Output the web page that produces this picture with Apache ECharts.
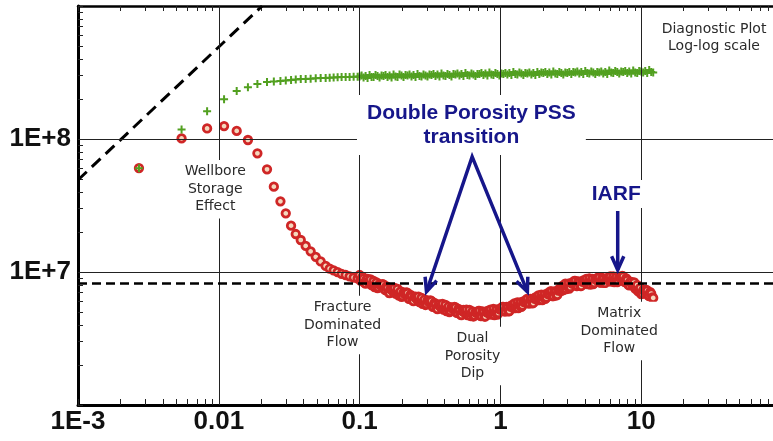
<!DOCTYPE html>
<html><head><meta charset="utf-8">
<script src="https://cdn.jsdelivr.net/npm/echarts@6/dist/echarts.min.js"></script>
<style>html,body{margin:0;padding:0;background:#fff}#c{width:773px;height:441px}</style>
</head><body><div id="c"></div>
<script>
// ---- data ----
const timeSparse = [0.00271,0.00544,0.00826,0.0109,0.0134,0.0161,0.0188,0.0220,0.0246,0.0274,0.0299,0.0326,0.0352,0.0382,0.0414,0.0449,0.0488,0.0529,0.0574,0.0613,0.0654,0.0698,0.0745,0.0796,0.0849,0.0907,0.0968];
const derivSparse = [6.05e7,1.01e8,1.20e8,1.25e8,1.15e8,9.83e7,7.81e7,5.92e7,4.38e7,3.40e7,2.76e7,2.23e7,1.93e7,1.74e7,1.57e7,1.43e7,1.30e7,1.20e7,1.11e7,1.06e7,1.03e7,9.97e6,9.69e6,9.49e6,9.28e6,9.09e6,8.94e6];
const pressSparse = [6.02e7,1.18e8,1.62e8,1.99e8,2.30e8,2.45e8,2.59e8,2.68e8,2.71e8,2.73e8,2.75e8,2.78e8,2.80e8,2.82e8,2.83e8,2.84e8,2.86e8,2.87e8,2.88e8,2.89e8,2.90e8,2.91e8,2.92e8,2.93e8,2.93e8,2.94e8,2.94e8];
const timeDense = [0.1000,0.1033,0.1067,0.1103,0.1139,0.1177,0.1216,0.1257,0.1298,0.1341,
0.1386,0.1432,0.1479,0.1528,0.1579,0.1632,0.1686,0.1742,0.1799,0.1859,
0.1921,0.1985,0.2051,0.2119,0.2189,0.2262,0.2337,0.2415,0.2495,0.2578,
0.2663,0.2752,0.2843,0.2938,0.3035,0.3136,0.3240,0.3348,0.3459,0.3574,
0.3692,0.3815,0.3942,0.4073,0.4208,0.4348,0.4492,0.4641,0.4795,0.4954,
0.5119,0.5289,0.5464,0.5646,0.5833,0.6027,0.6227,0.6434,0.6648,0.6868,
0.7096,0.7332,0.7576,0.7827,0.8087,0.8356,0.8633,0.8920,0.9216,0.9522,
0.9838,1.0165,1.050,1.085,1.121,1.158,1.197,1.236,1.277,1.320,
1.364,1.409,1.456,1.504,1.554,1.606,1.659,1.714,1.771,1.830,
1.890,1.953,2.018,2.085,2.154,2.226,2.300,2.376,2.455,2.536,
2.621,2.708,2.797,2.890,2.986,3.086,3.188,3.294,3.403,3.516,
3.633,3.754,3.878,4.007,4.140,4.278,4.420,4.566,4.718,4.875,
5.036,5.204,5.376,5.555,5.739,5.930,6.127,6.330,6.541,6.758,
6.982,7.214,7.453,7.701,7.956,8.221,8.494,8.776,9.067,9.368,
9.679,10.00,10.33,10.68,11.03,11.40,11.78,12.17];
const derivDense = [9.49e6,8.56e6,8.94e6,8.19e6,8.86e6,8.27e6,7.98e6,8.56e6,8.05e6,7.58e6,
8.12e6,7.85e6,8.05e6,7.32e6,7.58e6,6.95e6,7.51e6,7.07e6,6.89e6,7.45e6,
6.95e6,6.49e6,7.01e6,6.83e6,6.95e6,6.27e6,6.54e6,6.05e6,6.54e6,6.16e6,
5.95e6,6.38e6,6.00e6,5.65e6,6.11e6,5.95e6,6.05e6,5.46e6,5.70e6,5.27e6,
5.70e6,5.36e6,5.22e6,5.65e6,5.32e6,5.00e6,5.41e6,5.27e6,5.41e6,4.92e6,
5.13e6,4.75e6,5.18e6,4.88e6,4.75e6,5.18e6,4.88e6,4.63e6,5.00e6,4.92e6,
5.09e6,4.67e6,4.96e6,4.63e6,5.09e6,4.83e6,4.79e6,5.27e6,5.00e6,4.79e6,
5.27e6,5.22e6,5.46e6,5.05e6,5.36e6,5.09e6,5.60e6,5.36e6,5.36e6,5.90e6,
5.65e6,5.46e6,6.00e6,5.95e6,6.27e6,5.80e6,6.16e6,5.85e6,6.43e6,6.16e6,
6.16e6,6.77e6,6.49e6,6.27e6,6.89e6,6.83e6,7.14e6,6.60e6,7.07e6,6.72e6,
7.45e6,7.20e6,7.32e6,8.19e6,7.85e6,7.51e6,8.27e6,8.19e6,8.56e6,7.85e6,
8.34e6,7.85e6,8.63e6,8.27e6,8.12e6,8.94e6,8.48e6,8.12e6,8.86e6,8.71e6,
9.09e6,8.34e6,8.86e6,8.27e6,9.01e6,8.56e6,8.48e6,9.25e6,8.86e6,8.41e6,
9.17e6,9.01e6,9.25e6,8.41e6,8.71e6,7.92e6,8.41e6,7.85e6,7.51e6,7.98e6,
7.39e6,6.83e6,7.32e6,7.14e6,7.26e6,6.60e6,6.89e6,6.38e6];
const timeDense2 = [0.1016,0.1050,0.1085,0.1121,0.1158,0.1196,0.1236,0.1278,0.1319,0.1363,
0.1409,0.1456,0.1503,0.1553,0.1605,0.1659,0.1714,0.1771,0.1829,0.1890,
0.1953,0.2018,0.2085,0.2154,0.2225,0.2299,0.2376,0.2455,0.2536,0.2621,
0.2707,0.2797,0.2890,0.2986,0.3085,0.3188,0.3293,0.3403,0.3516,0.3633,
0.3753,0.3878,0.4007,0.4140,0.4277,0.4420,0.4566,0.4718,0.4874,0.5036,
0.5203,0.5376,0.5554,0.5739,0.5929,0.6126,0.6330,0.6540,0.6758,0.6981,
0.7213,0.7453,0.7701,0.7956,0.8220,0.8494,0.8775,0.9067,0.9368,0.9679,
1.0000,1.0333,1.0673,1.1029,1.1395,1.1771,1.2168,1.2564,1.2981,1.3418,
1.3865,1.4323,1.4800,1.5288,1.5796,1.6325,1.6864,1.7423,1.8002,1.8602,
1.9212,1.9852,2.0513,2.1194,2.1895,2.2627,2.3380,2.4152,2.4955,2.5778,
2.6642,2.7527,2.8432,2.9377,3.0353,3.1369,3.2406,3.3484,3.4592,3.5740,
3.6930,3.8159,3.9420,4.0731,4.2083,4.3486,4.4929,4.6413,4.7958,4.9554,
5.1191,5.2899,5.4647,5.6467,5.8337,6.0278,6.2281,6.4344,6.6489,6.8695,
7.0972,7.3330,7.5760,7.8281,8.0873,8.3566,8.6342,8.9208,9.2166,9.5226,
9.8387,10.165,10.500,10.856,11.212,11.588,11.974];
const derivDense2 = [8.63e6,9.17e6,8.27e6,8.78e6,8.48e6,8.78e6,8.05e6,7.71e6,8.34e6,7.65e6,
7.92e6,8.12e6,7.39e6,7.78e6,7.01e6,7.45e6,7.26e6,7.58e6,7.01e6,6.66e6,
7.14e6,6.60e6,6.89e6,7.01e6,6.32e6,6.72e6,6.11e6,6.49e6,6.32e6,6.54e6,
6.00e6,5.75e6,6.21e6,5.75e6,6.00e6,6.11e6,5.50e6,5.85e6,5.32e6,5.65e6,
5.50e6,5.75e6,5.32e6,5.09e6,5.50e6,5.09e6,5.32e6,5.46e6,4.96e6,5.27e6,
4.79e6,5.09e6,5.00e6,5.22e6,4.83e6,4.67e6,5.05e6,4.71e6,4.92e6,5.09e6,
4.67e6,5.05e6,4.63e6,5.00e6,4.92e6,5.22e6,4.92e6,4.75e6,5.22e6,4.92e6,
5.22e6,5.46e6,5.05e6,5.46e6,5.05e6,5.50e6,5.46e6,5.80e6,5.50e6,5.36e6,
5.90e6,5.60e6,5.95e6,6.21e6,5.80e6,6.27e6,5.80e6,6.32e6,6.27e6,6.66e6,
6.32e6,6.16e6,6.77e6,6.43e6,6.83e6,7.14e6,6.60e6,7.14e6,6.66e6,7.26e6,
7.26e6,7.85e6,7.58e6,7.45e6,8.19e6,7.71e6,8.19e6,8.56e6,7.85e6,8.48e6,
7.85e6,8.48e6,8.41e6,8.86e6,8.34e6,8.05e6,8.86e6,8.27e6,8.71e6,9.09e6,
8.34e6,9.01e6,8.27e6,8.86e6,8.71e6,9.25e6,8.63e6,8.41e6,9.17e6,8.56e6,
9.01e6,9.33e6,8.48e6,8.94e6,8.05e6,8.41e6,8.05e6,8.34e6,7.58e6,7.14e6,
7.58e6,6.89e6,7.20e6,7.32e6,6.66e6,7.07e6,6.43e6];
const pressDense = [2.95e8,3.00e8,2.90e8,2.98e8,2.88e8,3.03e8,2.93e8,2.93e8,3.03e8,2.98e8,
2.90e8,3.00e8,2.98e8,3.03e8,2.93e8,3.00e8,2.90e8,3.06e8,2.95e8,2.93e8,
3.06e8,3.00e8,2.93e8,3.03e8,3.00e8,3.06e8,2.95e8,3.03e8,2.93e8,3.08e8,
2.98e8,2.95e8,3.06e8,3.00e8,2.95e8,3.06e8,3.03e8,3.08e8,2.98e8,3.06e8,
2.95e8,3.11e8,3.00e8,2.98e8,3.08e8,3.03e8,2.95e8,3.08e8,3.06e8,3.11e8,
3.00e8,3.08e8,2.98e8,3.14e8,3.03e8,3.00e8,3.11e8,3.06e8,2.98e8,3.08e8,
3.08e8,3.14e8,3.03e8,3.11e8,3.00e8,3.16e8,3.06e8,3.03e8,3.14e8,3.08e8,
3.00e8,3.11e8,3.08e8,3.14e8,3.06e8,3.14e8,3.03e8,3.19e8,3.08e8,3.06e8,
3.16e8,3.11e8,3.03e8,3.14e8,3.11e8,3.16e8,3.06e8,3.14e8,3.03e8,3.19e8,
3.08e8,3.16e8,3.14e8,3.19e8,3.08e8,3.16e8,3.06e8,3.22e8,3.11e8,3.08e8,
3.19e8,3.14e8,3.06e8,3.16e8,3.14e8,3.19e8,3.08e8,3.19e8,3.16e8,3.22e8,
3.11e8,3.19e8,3.08e8,3.25e8,3.14e8,3.11e8,3.22e8,3.16e8,3.08e8,3.19e8,
3.16e8,3.22e8,3.11e8,3.19e8,3.08e8,3.27e8,3.16e8,3.14e8,3.25e8,3.19e8,
3.11e8,3.22e8,3.19e8,3.25e8,3.14e8,3.22e8,3.11e8,3.27e8,3.16e8,3.14e8,
3.25e8,3.22e8,3.16e8,3.25e8,3.14e8,3.30e8,3.19e8,3.16e8];

const xTickValues = [0.001,0.01,0.1,1,10];
const xTickLabels = ['1E-3','0.01','0.1','1','10'];
const yTickValues = [1e7,1e8];
const yTickLabels = ['1E+7','1E+8'];
const xMinorTicks = [0.001,0.002,0.003,0.004,0.005,0.006,0.007,0.008,0.009,
  0.01,0.02,0.03,0.04,0.05,0.06,0.07,0.08,0.09,
  0.1,0.2,0.3,0.4,0.5,0.6,0.7,0.8,0.9,
  1,2,3,4,5,6,7,8,9,10,20,30,40,50,60,70,80,90,100];
const yMinorTicks = [1e6,2e6,3e6,4e6,5e6,6e6,7e6,8e6,9e6,
  1e7,2e7,3e7,4e7,5e7,6e7,7e7,8e7,9e7,
  1e8,2e8,3e8,4e8,5e8,6e8,7e8,8e8,9e8,1e9];
const xGridValues = [0.01,0.1,1,10];
const yGridValues = [1e7,1e8];
const wbsLine = [[0.001,4.92e7],[0.0203,1e9]];
const iarfLevel = 8.27e6;

// annotations (data coordinates)
const notes = [
  {text:'Wellbore\nStorage\nEffect', at:[0.00944,4.19e7]},
  {text:'Fracture\nDominated\nFlow', at:[0.0757,4.0e6]},
  {text:'Dual\nPorosity\nDip', at:[0.633,2.34e6]},
  {text:'Matrix\nDominated\nFlow', at:[6.98,3.6e6]},
  {text:'Diagnostic Plot\nLog-log scale', at:[32.9,5.75e8]}
];
const bigNotes = [
  {text:'Double Porosity PSS\ntransition', at:[0.6226,1.274e8], pad:[6,10]},
  {text:'IARF', at:[6.65,3.86e7], pad:[2,4]}
];
const vArrow = {apex:[0.630,7.36e7], tips:[[0.2986,7.11e6],[1.554,7.11e6]]};
const iarfArrow = {from:[6.81,2.874e7], to:[6.81,1.035e7]};

// ---- build ----
const zip = (xs, ys) => xs.map((x,i)=>[x, ys[i]]);
const redData = zip(timeSparse, derivSparse)
  .concat(zip(timeDense, derivDense), zip(timeDense2, derivDense2))
  .sort((a,b)=>a[0]-b[0]);
const greenData = zip(timeSparse, pressSparse).concat(zip(timeDense, pressDense));

function fmtFrom(vals, labels){
  return v => { const i = vals.findIndex(t => Math.abs(Math.log10(t)-Math.log10(v))<1e-6); return i>=0?labels[i]:''; };
}
const NAVY = '#16168a';
const chart = echarts.init(document.getElementById('c'), null, {renderer:'canvas'});
const option = {
  animation:false,
  backgroundColor:'#fff',
  grid:{left:78, right:-9, top:6, bottom:36, containLabel:false, outerBoundsMode:'none'},
  xAxis:[{
    type:'log', logBase:10, min:0.001, max:100, position:'bottom',
    axisLine:{show:true, onZero:false, lineStyle:{color:'#000', width:3}},
    axisTick:{show:true, inside:true, length:6, customValues:xMinorTicks, lineStyle:{color:'#222', width:1}},
    axisLabel:{show:true, customValues:xTickValues, formatter:fmtFrom(xTickValues,xTickLabels), margin:4,
      fontFamily:'Liberation Sans, Arial', fontWeight:'bold', fontSize:26, color:'#111'},
    splitLine:{show:false}, minorTick:{show:false}
  },{
    type:'log', logBase:10, min:0.001, max:100, position:'top',
    axisLine:{show:true, onZero:false, lineStyle:{color:'#000', width:2.5}},
    axisTick:{show:true, inside:true, length:5, customValues:xMinorTicks, lineStyle:{color:'#222', width:1}},
    axisLabel:{show:false}, splitLine:{show:false}
  }],
  yAxis:[{
    type:'log', logBase:10, min:1e6, max:1e9, position:'left',
    axisLine:{show:true, onZero:false, lineStyle:{color:'#000', width:3}},
    axisTick:{show:true, inside:true, length:5, customValues:yMinorTicks, lineStyle:{color:'#222', width:1}},
    axisLabel:{show:true, customValues:yTickValues, formatter:fmtFrom(yTickValues,yTickLabels), margin:7,
      fontFamily:'Liberation Sans, Arial', fontWeight:'bold', fontSize:26, color:'#111'},
    splitLine:{show:false}
  }],
  series:[
    {
      type:'line', name:'wbs', data:wbsLine, showSymbol:false, symbol:'none', silent:true, z:1,
      lineStyle:{color:'#000', width:3, type:[12,7]},
      markLine:{silent:true, symbol:'none', label:{show:false}, animation:false,
        data:[
          ...xGridValues.map(v=>({xAxis:v, lineStyle:{color:'#222', width:1, type:'solid'}})),
          ...yGridValues.map(v=>({yAxis:v, lineStyle:{color:'#222', width:1, type:'solid'}})),
          {yAxis:iarfLevel, lineStyle:{color:'#000', width:2.5, type:[9,5]}}
        ]}
    },
    {
      type:'scatter', name:'derivative', data:redData, symbol:'circle', symbolSize:7.5, z:3, large:false,
      itemStyle:{color:'#f4d8bd', borderColor:'#cf2626', borderWidth:2.8, opacity:1}
    },
    {
      type:'scatter', name:'pressure', data:greenData, symbol:'path://M3,0H5V3H8V5H5V8H3V5H0V3H3Z', symbolSize:8, z:4,
      itemStyle:{color:'#52a020', opacity:1}
    }
  ]
};
chart.setOption(option);

function px(p){ return chart.convertToPixel({gridIndex:0}, p); }
function arrowHead(from, tip){
  const dx=tip[0]-from[0], dy=tip[1]-from[1], L=Math.hypot(dx,dy);
  const bx=-dx/L, by=-dy/L, hl=15, a=Math.PI/7.5, c=Math.cos(a), s=Math.sin(a);
  const h1=[tip[0]+hl*(bx*c-by*s), tip[1]+hl*(bx*s+by*c)];
  const h2=[tip[0]+hl*(bx*c+by*s), tip[1]+hl*(-bx*s+by*c)];
  return {type:'polyline', z:120, shape:{points:[h1,tip,h2]}, style:{stroke:NAVY, lineWidth:3.5, fill:null, lineJoin:'miter'}};
}
const g = [];
notes.forEach(n=>{
  const p = px(n.at);
  g.push({type:'text', x:p[0], y:p[1], z:110, style:{text:n.text, fill:'#2a2a2a', font:'14px "DejaVu Sans", Verdana, sans-serif',
    align:'center', verticalAlign:'middle', lineHeight:17.5, backgroundColor:'#fff', padding:[3,4]}});
});
bigNotes.forEach(n=>{
  const p = px(n.at);
  g.push({type:'text', x:p[0], y:p[1], z:110, style:{text:n.text, fill:NAVY, font:'bold 21px "Liberation Sans", Arial, sans-serif',
    align:'center', verticalAlign:'middle', lineHeight:24, backgroundColor:'#fff', padding:n.pad}});
});
const apex = px(vArrow.apex);
const t1 = px(vArrow.tips[0]), t2 = px(vArrow.tips[1]);
g.push({type:'polyline', z:120, shape:{points:[t1, apex, t2]}, style:{stroke:NAVY, lineWidth:3.5, fill:null, lineJoin:'miter'}});
g.push(arrowHead(apex, t1));
g.push(arrowHead(apex, t2));
const a0 = px(iarfArrow.from), a1 = px(iarfArrow.to);
g.push({type:'polyline', z:120, shape:{points:[a0,a1]}, style:{stroke:NAVY, lineWidth:3.5, fill:null}});
g.push(arrowHead(a0, a1));
chart.setOption({graphic:g});
</script>
</body></html>
